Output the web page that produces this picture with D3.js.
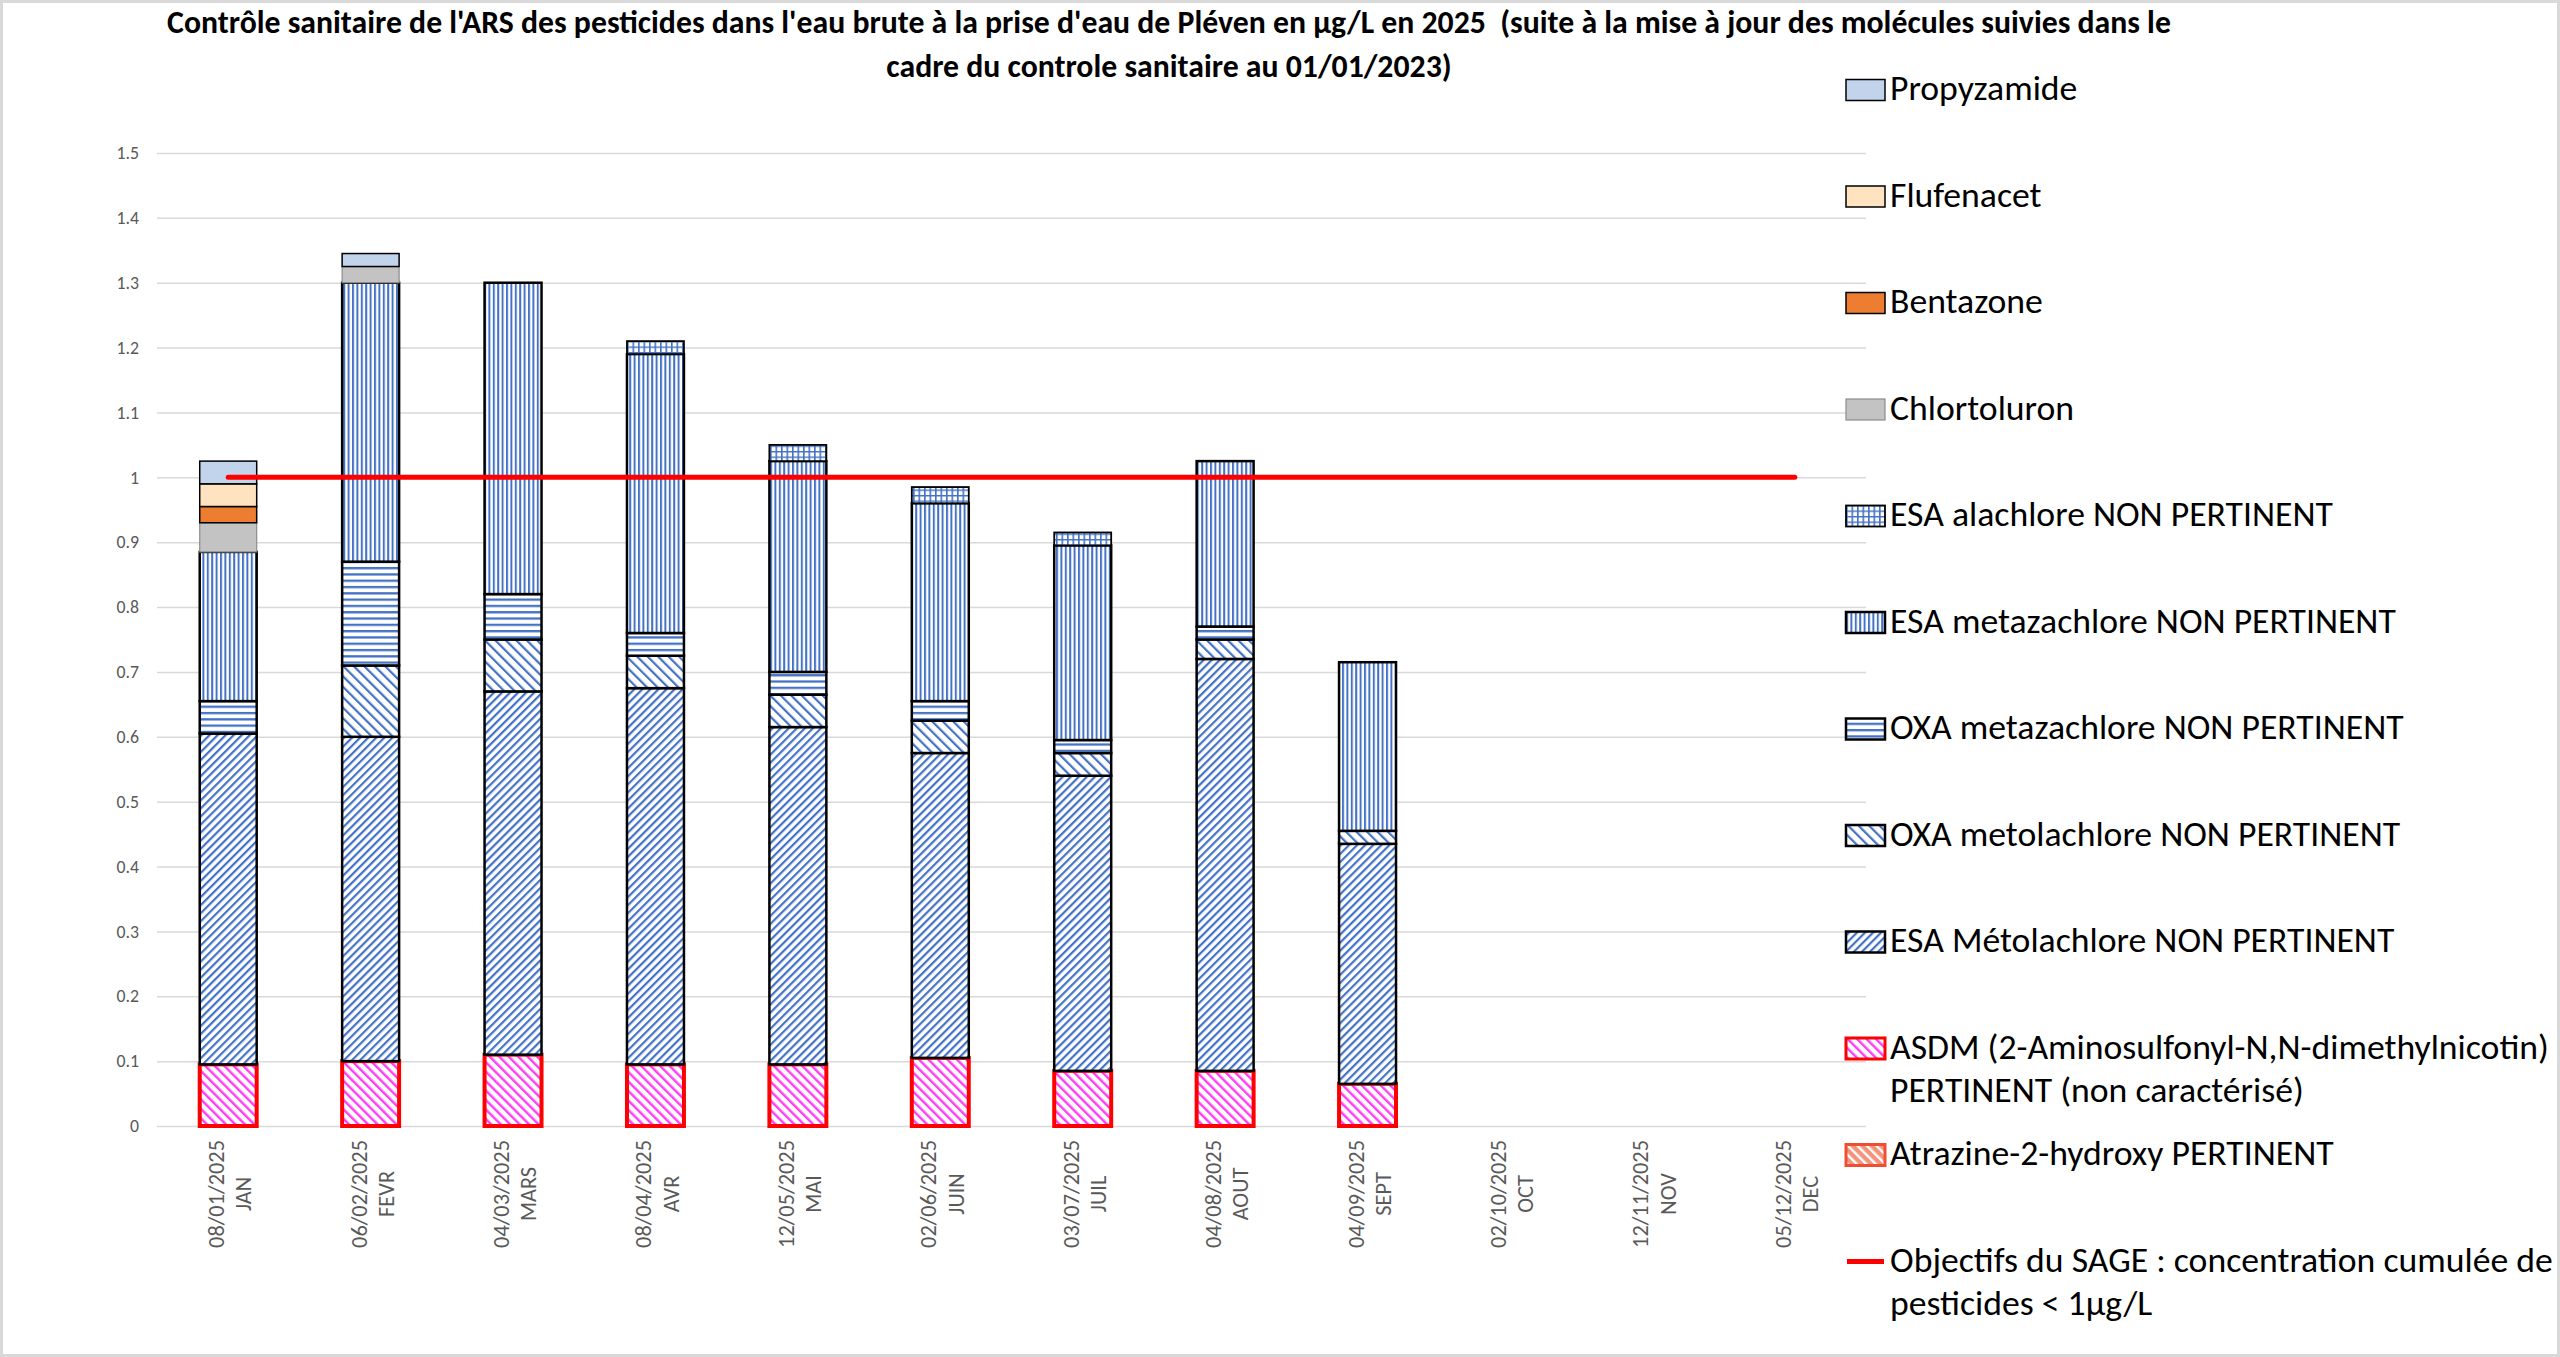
<!DOCTYPE html>
<html>
<head>
<meta charset="utf-8">
<script src="https://cdn.jsdelivr.net/npm/d3@7"></script>
<style>
  html, body { margin: 0; padding: 0; background: #fff; }
  svg { display: block; }
  text { font-family: Carlito, Calibri, "Liberation Sans Narrow", "Arial Narrow", "Liberation Sans", sans-serif; }
</style>
</head>
<body>
<svg id="chart" width="2560" height="1357"></svg>
<script>
// categories (date of sample + month)
var dates = ["08/01/2025", "06/02/2025", "04/03/2025", "08/04/2025", "12/05/2025", "02/06/2025",
             "03/07/2025", "04/08/2025", "04/09/2025", "02/10/2025", "12/11/2025", "05/12/2025"];
var months = ["JAN", "FEVR", "MARS", "AVR", "MAI", "JUIN", "JUIL", "AOUT", "SEPT", "OCT", "NOV", "DEC"];

// concentrations in µg/L, one value per month
var atrazine = [0, 0, 0, 0, 0, 0, 0, 0, 0, 0, 0, 0];
var asdm     = [0.095, 0.10, 0.11, 0.095, 0.095, 0.105, 0.085, 0.085, 0.065, 0, 0, 0];
var esaMeto  = [0.51, 0.50, 0.56, 0.58, 0.52, 0.47, 0.455, 0.635, 0.37, 0, 0, 0];
var oxaMetol = [0, 0.11, 0.08, 0.05, 0.05, 0.05, 0.035, 0.03, 0.02, 0, 0, 0];
var oxaMetaz = [0.05, 0.16, 0.07, 0.035, 0.035, 0.03, 0.02, 0.02, 0, 0, 0, 0];
var esaMetaz = [0.23, 0.43, 0.48, 0.43, 0.325, 0.305, 0.30, 0.255, 0.26, 0, 0, 0];
var esaAla   = [0, 0, 0, 0.02, 0.025, 0.025, 0.02, 0, 0, 0, 0, 0];
var chlorto  = [0.045, 0.025, 0, 0, 0, 0, 0, 0, 0, 0, 0, 0];
var benta    = [0.025, 0, 0, 0, 0, 0, 0, 0, 0, 0, 0, 0];
var flufen   = [0.035, 0, 0, 0, 0, 0, 0, 0, 0, 0, 0, 0];
var propyz   = [0.035, 0.02, 0, 0, 0, 0, 0, 0, 0, 0, 0, 0];

var seuilSage = 1;   // objectif SAGE
var yTicks = [0, 0.1, 0.2, 0.3, 0.4, 0.5, 0.6, 0.7, 0.8, 0.9, 1, 1.1, 1.2, 1.3, 1.4, 1.5];

var titleLines = ["Contrôle sanitaire de l'ARS des pesticides dans l'eau brute à la prise d'eau de Pléven en µg/L en 2025  (suite à la mise à jour des molécules suivies dans le",
                  "cadre du controle sanitaire au 01/01/2023)"];

// stacking order, bottom to top
var stackKeys = ["atrazine", "asdm", "esaMeto", "oxaMetol", "oxaMetaz", "esaMetaz", "esaAla", "chlorto", "benta", "flufen", "propyz"];
var seriesValues = {
    atrazine: atrazine, asdm: asdm, esaMeto: esaMeto, oxaMetol: oxaMetol, oxaMetaz: oxaMetaz,
    esaMetaz: esaMetaz, esaAla: esaAla, chlorto: chlorto, benta: benta, flufen: flufen, propyz: propyz
};
var seriesNames = {
    propyz: ["Propyzamide"],
    flufen: ["Flufenacet"],
    benta: ["Bentazone"],
    chlorto: ["Chlortoluron"],
    esaAla: ["ESA alachlore NON PERTINENT"],
    esaMetaz: ["ESA metazachlore NON PERTINENT"],
    oxaMetaz: ["OXA metazachlore NON PERTINENT"],
    oxaMetol: ["OXA metolachlore NON PERTINENT"],
    esaMeto: ["ESA Métolachlore NON PERTINENT"],
    asdm: ["ASDM (2-Aminosulfonyl-N,N-dimethylnicotin)", "PERTINENT (non caractérisé)"],
    atrazine: ["Atrazine-2-hydroxy PERTINENT"],
    sage: ["Objectifs du SAGE : concentration cumulée de", "pesticides < 1µg/L"]
};
var legendOrder = ["propyz", "flufen", "benta", "chlorto", "esaAla", "esaMetaz", "oxaMetaz", "oxaMetol", "esaMeto", "asdm", "atrazine", "sage"];

var blue = "#4472C4";
var styles = {
    atrazine: { fill: "url(#p-atrazine)", stroke: "#F04E30", sw: 3 },
    asdm:     { fill: "url(#p-asdm)", stroke: "#FF0000", sw: 4 },
    esaMeto:  { fill: "url(#p-esaMeto)", stroke: "#000", sw: 2.5 },
    oxaMetol: { fill: "url(#p-oxaMetol)", stroke: "#000", sw: 2.5 },
    oxaMetaz: { fill: "url(#p-oxaMetaz)", stroke: "#000", sw: 2.5 },
    esaMetaz: { fill: "url(#p-esaMetaz)", stroke: "#000", sw: 2.5 },
    esaAla:   { fill: "url(#p-esaAla)", stroke: "#000", sw: 1.8 },
    chlorto:  { fill: "#C3C3C3", stroke: "#8C8C8C", sw: 1.2 },
    benta:    { fill: "#ED7D31", stroke: "#000", sw: 1.5 },
    flufen:   { fill: "#FFE2C0", stroke: "#000", sw: 1.5 },
    propyz:   { fill: "#C2D3EC", stroke: "#000", sw: 1.5 }
};

var rows = months.map(function(m, i) {
    var r = { month: m, date: dates[i] };
    stackKeys.forEach(function(k) { r[k] = seriesValues[k][i]; });
    return r;
});

var svg = d3.select("#chart");
var W = 2560, H = 1357;

svg.append("rect")
    .attr("x", 1.5).attr("y", 1.5)
    .attr("width", W - 3).attr("height", H - 3)
    .attr("fill", "#fff").attr("stroke", "#D9D9D9").attr("stroke-width", 3);

/* hatch patterns */
var defs = svg.append("defs");

function stripes(id, period, lineW, color, angle, bg) {
    var p = defs.append("pattern")
        .attr("id", id)
        .attr("patternUnits", "userSpaceOnUse")
        .attr("width", period).attr("height", period)
        .attr("patternTransform", "rotate(" + angle + ")");
    p.append("rect").attr("width", period).attr("height", period).attr("fill", bg || "#fff");
    p.append("rect").attr("x", 0).attr("y", 0).attr("width", lineW).attr("height", period).attr("fill", color);
}
stripes("p-esaMeto", 5.7, 2.2, blue, 45);
stripes("p-oxaMetol", 7.4, 2.2, blue, -45);
stripes("p-esaMetaz", 4.4, 2.0, blue, 0);
stripes("p-oxaMetaz", 6.3, 2.3, blue, 90);
stripes("p-asdm", 6.7, 2.4, "#FF3DF5", -45);
stripes("p-atrazine", 6.7, 2.4, "#FFFFFF", -45, "#F5937A");

var grid = defs.append("pattern")
    .attr("id", "p-esaAla")
    .attr("patternUnits", "userSpaceOnUse")
    .attr("width", 5.5).attr("height", 5.5);
grid.append("rect").attr("width", 5.5).attr("height", 5.5).attr("fill", "#fff");
grid.append("rect").attr("width", 1.6).attr("height", 5.5).attr("fill", blue);
grid.append("rect").attr("width", 5.5).attr("height", 1.4).attr("fill", blue);

/* scales */
var plotLeft = 157, plotRight = 1866, plotTop = 153, plotBottom = 1126;

var x = d3.scaleBand()
    .domain(months)
    .range([plotLeft, plotRight])
    .paddingInner(0.6)
    .paddingOuter(0.3);

var y = d3.scaleLinear()
    .domain([0, 1.5])
    .range([plotBottom, plotTop]);

/* y axis with gridlines */
var yAxis = svg.append("g")
    .attr("transform", "translate(" + plotLeft + ",0)")
    .call(d3.axisLeft(y)
        .tickValues(yTicks)
        .tickSize(-(plotRight - plotLeft))
        .tickPadding(18)
        .tickFormat(function(d) { return String(d); }));
yAxis.select(".domain").remove();
yAxis.selectAll(".tick line").attr("stroke", "#D9D9D9").attr("stroke-width", 1.5);
yAxis.selectAll(".tick text")
    .attr("fill", "#595959")
    .attr("font-size", 17.5);
yAxis.attr("font-family", null);

/* stacked bars */
var stacked = d3.stack().keys(stackKeys)(rows);

var layers = svg.append("g").selectAll("g")
    .data(stacked)
    .join("g")
    .attr("fill", function(s) { return styles[s.key].fill; })
    .attr("stroke", function(s) { return styles[s.key].stroke; })
    .attr("stroke-width", function(s) { return styles[s.key].sw; });

layers.selectAll("rect")
    .data(function(s) { return s.filter(function(d) { return d[1] - d[0] > 0; }); })
    .join("rect")
    .attr("x", function(d) { return x(d.data.month); })
    .attr("width", x.bandwidth())
    .attr("y", function(d) { return y(d[1]); })
    .attr("height", function(d) { return y(d[0]) - y(d[1]); });

/* SAGE objective line */
var line = d3.line()
    .x(function(d) { return x(d) + x.bandwidth() / 2; })
    .y(function() { return y(seuilSage); });

svg.append("path")
    .datum(months)
    .attr("d", line)
    .attr("fill", "none")
    .attr("stroke", "#FF0000")
    .attr("stroke-width", 5)
    .attr("stroke-linecap", "round");

/* category labels, rotated, two lines */
var xLab = svg.append("g").selectAll("g")
    .data(rows)
    .join("g")
    .attr("transform", function(d) {
        return "translate(" + (x(d.month) + x.bandwidth() / 2) + "," + (plotBottom + 14) + ") rotate(-90)";
    })
    .attr("fill", "#595959")
    .attr("font-size", 22);

var dateText = xLab.append("text")
    .attr("text-anchor", "end")
    .attr("y", -4)
    .text(function(d) { return d.date; });

// scale the font so the date line has the same length as in the picture
var dLen = dateText.node().getComputedTextLength();
var xFont = 22 * 108 / dLen;
xLab.attr("font-size", xFont);
dLen = dateText.node().getComputedTextLength();

xLab.append("text")
    .attr("text-anchor", "middle")
    .attr("x", -dLen / 2)
    .attr("y", -4 + xFont * 1.22)
    .text(function(d) { return d.month; });

yAxis.selectAll(".tick text").attr("font-size", 17.5 * xFont / 22);

/* title */
var title = svg.append("g")
    .attr("font-weight", "bold")
    .attr("font-size", 27)
    .attr("fill", "#000");

var tl = title.selectAll("text")
    .data(titleLines)
    .join("text")
    .attr("xml:space", "preserve")
    .style("white-space", "pre")
    .attr("text-anchor", "middle")
    .attr("x", 1169)
    .attr("y", function(d, i) { return 33 + i * 44; })
    .text(function(d) { return d; });

var tLen = tl.node().getComputedTextLength();
title.attr("font-size", 27 * 2004 / tLen);

/* legend */
var legY0 = 90, legStep = 106.5, legX = 1846;
var legend = svg.append("g")
    .attr("font-size", 35)
    .attr("fill", "#000");

var items = legend.selectAll("g")
    .data(legendOrder)
    .join("g")
    .attr("transform", function(d, i) { return "translate(" + legX + "," + (legY0 + i * legStep) + ")"; });

items.each(function(k) {
    var g = d3.select(this);
    if (k === "sage") {
        g.append("line")
            .attr("x1", 1).attr("x2", 38)
            .attr("y1", 0).attr("y2", 0)
            .attr("stroke", "#FF0000").attr("stroke-width", 5);
    } else {
        g.append("rect")
            .attr("x", 0).attr("y", -10.5)
            .attr("width", 39).attr("height", 21)
            .attr("fill", styles[k].fill)
            .attr("stroke", styles[k].stroke)
            .attr("stroke-width", Math.min(styles[k].sw, 3));
    }
});

var legText = items.append("text")
    .attr("x", 44)
    .attr("y", 10);

legText.selectAll("tspan")
    .data(function(k) { return seriesNames[k]; })
    .join("tspan")
    .attr("x", 44)
    .attr("dy", function(d, i) { return i === 0 ? 0 : 43.5; })
    .text(function(d) { return d; });

var asdmLine = legText.filter(function(k) { return k === "asdm"; }).select("tspan").node();
var lLen = asdmLine.getComputedTextLength();
var legFont = 35 * 659 / lLen;
legend.attr("font-size", legFont);
</script>
</body>
</html>
